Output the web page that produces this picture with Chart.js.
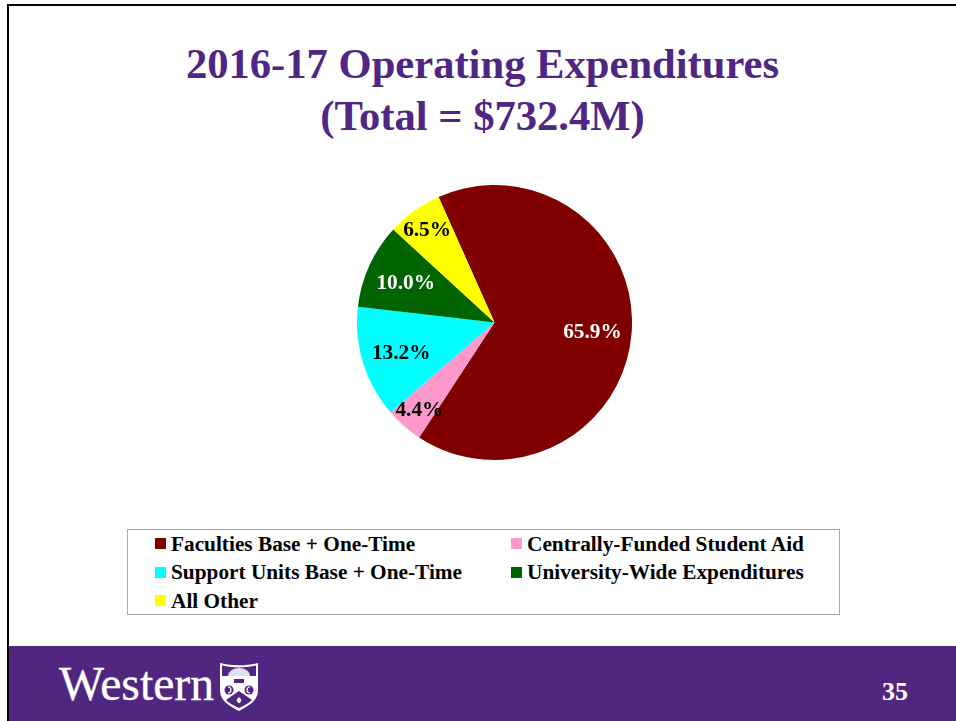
<!DOCTYPE html>
<html>
<head>
<meta charset="utf-8">
<title>2016-17 Operating Expenditures</title>
<script src="https://cdn.jsdelivr.net/npm/chart.js@4"></script>
<style>
  html, body { margin: 0; padding: 0; background: #fff; }
  body { width: 956px; height: 721px; position: relative; overflow: hidden; font-family: "Liberation Serif", serif; }
  .frame-top { position: absolute; left: 7px; top: 4px; width: 949px; height: 2px; background: #000; }
  .frame-left { position: absolute; left: 7px; top: 4px; width: 2px; height: 717px; background: #000; }
  .band { position: absolute; left: 9px; top: 646px; width: 947px; height: 75px; background: #4f2780; }
  .title { position: absolute; left: 0; width: 965px; text-align: center; color: #4f2683; font-weight: bold; font-size: 42.6px; line-height: 52px; white-space: nowrap; }
  #wrap { position: absolute; left: 357px; top: 185px; width: 275px; height: 275px; }
  #legend { position: absolute; left: 127px; top: 529px; width: 711px; height: 84px; border: 1px solid #aaa; }
  .item { position: absolute; font-weight: bold; font-size: 21.3px; line-height: 24px; color: #000; white-space: nowrap; }
  .swatch { position: absolute; width: 11px; height: 11px; }
  .wordmark { position: absolute; left: 59px; top: 659px; font-size: 47.7px; line-height: 50px; color: #fff; -webkit-text-stroke: 0.3px #fff; }
  .page { position: absolute; left: 882px; top: 678px; font-size: 26px; line-height: 28px; font-weight: bold; color: #fff; }
  .crest { position: absolute; left: 219px; top: 661px; }
</style>
</head>
<body>
<div class="frame-top"></div>
<div class="frame-left"></div>
<div class="title" style="top:38px">2016-17 Operating Expenditures</div>
<div class="title" style="top:90px">(Total = $732.4M)</div>
<div id="wrap"><canvas id="pie" width="275" height="275"></canvas></div>
<div id="legend"></div>
<div class="band"></div>
<div class="wordmark">Western</div>
<svg class="crest" width="40" height="51" viewBox="0 0 40 51">
  <path d="M1 2 C13 5 27 5 39 2 L39 30 C39 40 28 46 20 50 C12 46 1 40 1 30 Z" fill="#fff"/>
  <path d="M3 4.5 C14 7 26 7 37 4.5 L37 15 L3 15 Z" fill="#4f2780"/>
  <path d="M9 15 A11 8 0 0 1 31 15 Z" fill="#e4deee"/>
  <rect x="15" y="18" width="10" height="4" fill="#4f2780"/>
  <path d="M20 30 L33 39 C29 43 24 45 20 47 C16 45 11 43 7 39 Z" fill="#4f2780"/>
  <circle cx="10" cy="29" r="4.5" fill="#4f2780"/>
  <circle cx="30" cy="29" r="4.5" fill="#4f2780"/>
  <path d="M9 26 A3 3 0 0 1 9 32" fill="none" stroke="#fff" stroke-width="1.2"/>
  <path d="M31 26 A3 3 0 0 0 31 32" fill="none" stroke="#fff" stroke-width="1.2"/>
  <path d="M20 36 L22.5 39 L21 42 L19 42 L17.5 39 Z" fill="#fff"/>
</svg>
<div class="page">35</div>

<script>
const categories = ['Faculties Base + One-Time', 'Centrally-Funded Student Aid', 'Support Units Base + One-Time', 'University-Wide Expenditures', 'All Other'];
const shares = [65.9, 4.4, 13.2, 10.0, 6.5];
const colors = ['#800000', '#ff99cc', '#00ffff', '#006400', '#ffff00'];
const labelColors = ['#fff', '#000', '#000', '#fff', '#000'];
// how far out along the slice each percent label sits (fraction of radius)
const labelRadius = [0.715, 0.83, 0.71, 0.71, 0.84];

// Percent labels on the slices
const sliceLabels = {
  id: 'sliceLabels',
  afterDatasetsDraw(chart) {
    const ctx = chart.ctx;
    ctx.save();
    ctx.font = 'bold 21.3px "Liberation Serif"';
    ctx.textAlign = 'center';
    ctx.textBaseline = 'middle';
    chart.getDatasetMeta(0).data.forEach((arc, i) => {
      const mid = (arc.startAngle + arc.endAngle) / 2;
      const r = arc.outerRadius * labelRadius[i];
      ctx.fillStyle = labelColors[i];
      ctx.fillText(shares[i].toFixed(1) + '%', arc.x + Math.cos(mid) * r, arc.y + Math.sin(mid) * r + 2);
    });
    ctx.restore();
  }
};

new Chart(document.getElementById('pie'), {
  type: 'pie',
  data: {
    labels: categories,
    datasets: [{ data: shares, backgroundColor: colors, borderWidth: 0 }],
  },
  options: {
    responsive: false,
    animation: false,
    rotation: -24,
    layout: { padding: 0 },
    plugins: { legend: { display: false }, tooltip: { enabled: false } },
  },
  plugins: [sliceLabels],
});

// Legend, two columns filled row by row
const legend = document.getElementById('legend');
categories.forEach((name, i) => {
  const col = i % 2, row = Math.floor(i / 2);
  const swatch = document.createElement('div');
  swatch.className = 'swatch';
  swatch.style.cssText = `left:${col ? 383 : 27}px;top:${8 + row * 28.5}px;background:${colors[i]}`;
  const item = document.createElement('div');
  item.className = 'item';
  item.style.cssText = `left:${col ? 399 : 43}px;top:${2 + Math.floor(row * 28.5)}px`;
  item.textContent = name;
  legend.append(swatch, item);
});
</script>
</body>
</html>
